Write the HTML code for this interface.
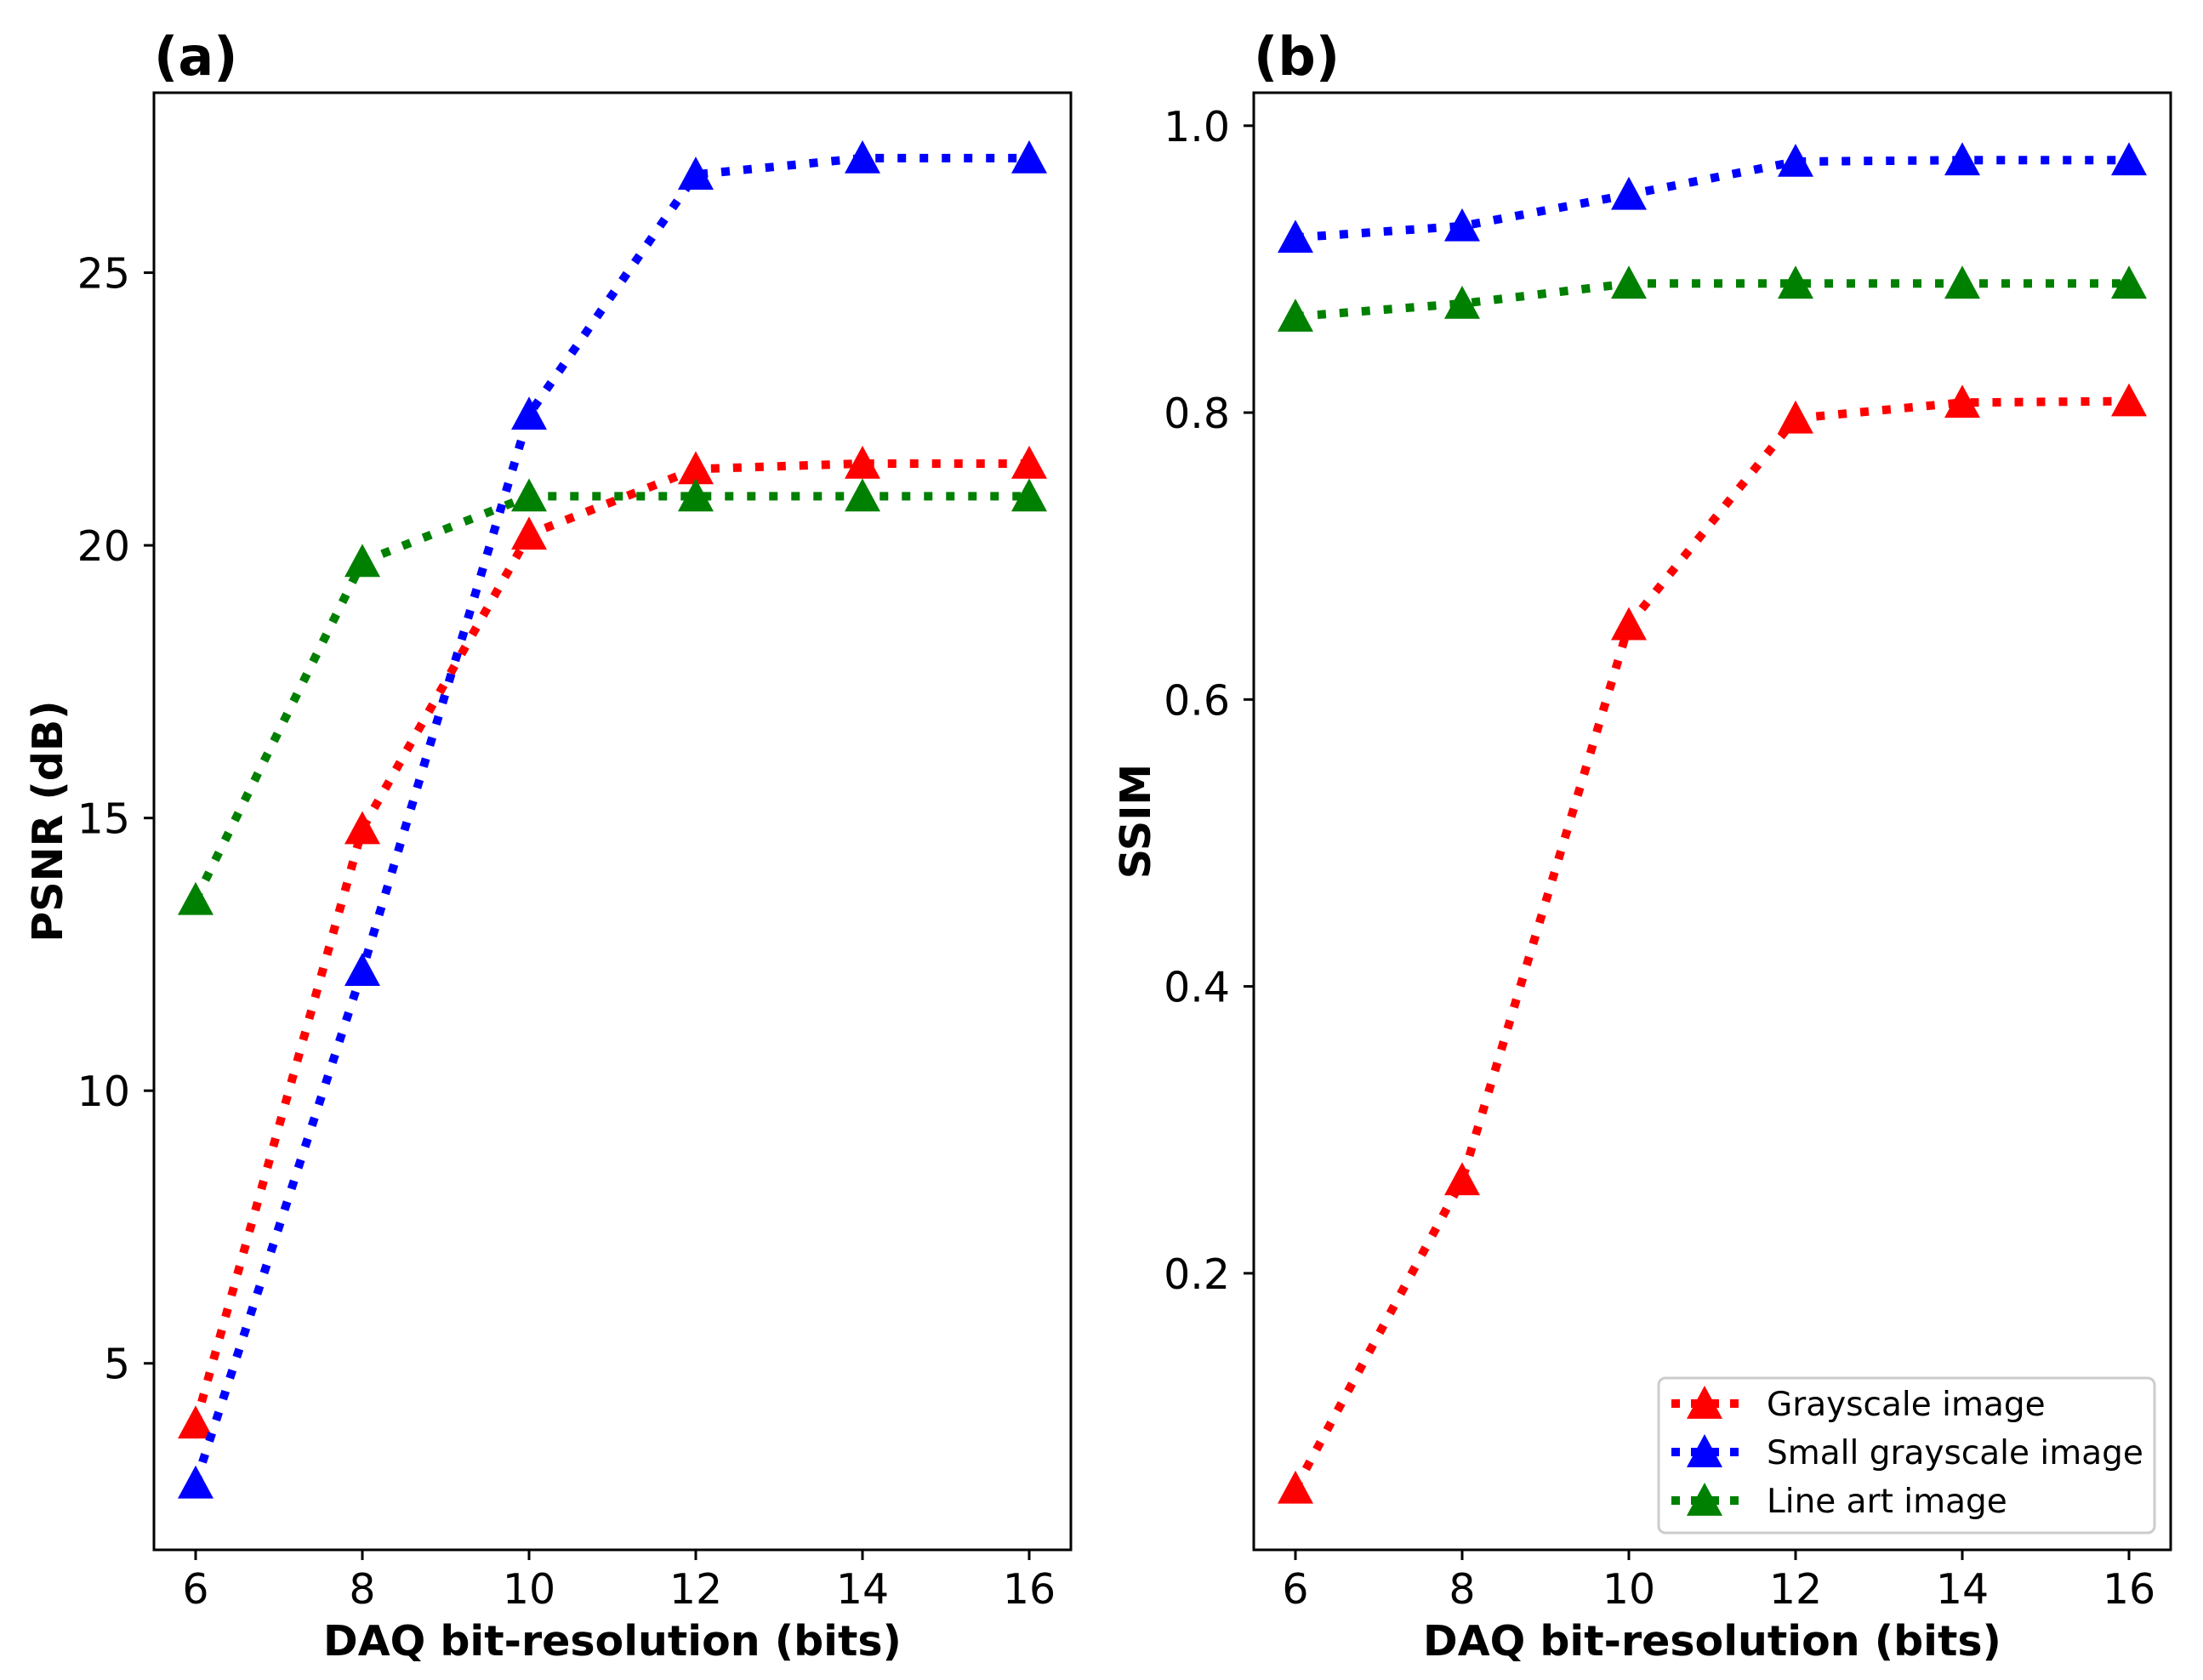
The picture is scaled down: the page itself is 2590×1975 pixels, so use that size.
<!DOCTYPE html>
<html><head><meta charset="utf-8"><style>
body{margin:0;background:#fff}
svg{display:block;font-family:"DejaVu Sans","Liberation Sans",sans-serif}
</style></head><body>
<svg id="fig" width="2590" height="1975" viewBox="0 0 2590 1975" xmlns="http://www.w3.org/2000/svg"></svg>
<script>
const bits = [6, 8, 10, 12, 14, 16];
const xTicks = [6, 8, 10, 12, 14, 16];
const psnrGray = [3.9, 14.8, 20.2, 21.4, 21.5, 21.5];
const psnrSmall = [2.8, 12.2, 22.4, 26.8, 27.1, 27.1];
const psnrLine = [13.5, 19.7, 20.9, 20.9, 20.9, 20.9];
const psnrTicks = [5, 10, 15, 20, 25];
const psnrTickLabels = ["5", "10", "15", "20", "25"];
const ssimGray = [0.05, 0.265, 0.652, 0.796, 0.807, 0.808];
const ssimSmall = [0.922, 0.930, 0.952, 0.975, 0.976, 0.976];
const ssimLine = [0.867, 0.876, 0.890, 0.890, 0.890, 0.890];
const ssimTicks = [0.2, 0.4, 0.6, 0.8, 1.0];
const ssimTickLabels = ["0.2", "0.4", "0.6", "0.8", "1.0"];
const seriesNames = ["Grayscale image", "Small grayscale image", "Line art image"];

const NS = "http://www.w3.org/2000/svg";
const svg = document.getElementById("fig");
function mk(tag, attrs, parent) {
  const e = document.createElementNS(NS, tag);
  for (const k in attrs) e.setAttribute(k, attrs[k]);
  (parent || svg).appendChild(e);
  return e;
}
const colors = ["#ff0000", "#0000ff", "#008000"];
const LW = 10;

function tri(g, cx, cy, color) {
  const r = 21;
  const p = mk("polygon", {points: `${cx},${cy - r} ${cx + r},${cy + r * 0.85} ${cx - r},${cy + r * 0.85}`, fill: color}, g);
  return p;
}

function panel(cfg) {
  const {L, R, T, B, xmin, xmax, ymin, ymax} = cfg;
  const xs = v => L + (v - xmin) / (xmax - xmin) * (R - L);
  const ys = v => B - (v - ymin) / (ymax - ymin) * (B - T);
  const g = mk("g", {});
  
  
  cfg.series.forEach((vals, si) => {
    const sg = mk("g", {}, g);
    
    
    const pts = bits.map((b, i) => xs(b) + "," + ys(vals[i])).join(" ");
    const pl = mk("polyline", {points: pts, fill: "none", stroke: colors[si], "stroke-width": LW, "stroke-dasharray": "10 16"}, sg);
    
    
    bits.forEach((b, i) => {
      const m = tri(sg, xs(b), ys(vals[i]), colors[si]);
      
      
    });
  });
  const fr = mk("rect", {x: L, y: T, width: R - L, height: B - T, fill: "none", stroke: "#000", "stroke-width": 3}, g);
  
  
  xTicks.forEach(t => {
    const x = xs(t);
    mk("line", {x1: x, x2: x, y1: B, y2: B + 12, stroke: "#000", "stroke-width": 3}, g);
    const tx = mk("text", {x: x, y: 1885, "text-anchor": "middle", "font-size": 49}, g);
    tx.textContent = t;
    
    
  });
  cfg.yTicks.forEach((t, i) => {
    const y = ys(t);
    mk("line", {x1: L - 12, x2: L, y1: y, y2: y, stroke: "#000", "stroke-width": 3}, g);
    const tx = mk("text", {x: L - 28, y: y + 18, "text-anchor": "end", "font-size": 49}, g);
    tx.textContent = cfg.yLabels[i];
    
    
  });
  const xl = mk("text", {x: (L + R) / 2, y: 1946, "text-anchor": "middle", "font-size": 49, "font-weight": "bold"}, g);
  xl.textContent = "DAQ bit-resolution (bits)";
  
  
  const cy = (T + B) / 2;
  const yl = mk("text", {x: cfg.ylx, y: cy, "text-anchor": "middle", "font-size": 49, "font-weight": "bold", transform: `rotate(-90 ${cfg.ylx} ${cy})`}, g);
  yl.textContent = cfg.ylabel;
  
  
  const pt = mk("text", {x: L, y: 88, "font-size": 62, "font-weight": "bold"}, g);
  pt.textContent = cfg.title;
  
  
}

panel({name: "psnr-chart", prefix: "psnr", L: 181, R: 1259, T: 109, B: 1822, xmin: 5.5, xmax: 16.5, ymin: 1.58, ymax: 28.30,
  series: [psnrGray, psnrSmall, psnrLine], yTicks: psnrTicks, yLabels: psnrTickLabels, ylabel: "PSNR (dB)", ylx: 73, title: "(a)"});
panel({name: "ssim-chart", prefix: "ssim", L: 1474, R: 2552, T: 109, B: 1822, xmin: 5.5, xmax: 16.5, ymin: 0.0072, ymax: 1.023,
  series: [ssimGray, ssimSmall, ssimLine], yTicks: ssimTicks, yLabels: ssimTickLabels, ylabel: "SSIM", ylx: 1352, title: "(b)"});

const lg = mk("g", {});


mk("rect", {x: 1950, y: 1620, width: 583, height: 182, rx: 8, fill: "#fff", "fill-opacity": 0.8, stroke: "#cccccc", "stroke-width": 3}, lg);
seriesNames.forEach((n, i) => {
  const y = 1650 + i * 57;
  const e = mk("g", {}, lg);
  
  
  mk("line", {x1: 1965, x2: 2045, y1: y, y2: y, stroke: colors[i], "stroke-width": LW, "stroke-dasharray": "10 13"}, e);
  tri(e, 2004, y, colors[i]);
  const t = mk("text", {x: 2077, y: y + 14, "font-size": 39}, e);
  t.textContent = n;
});
</script>
</body></html>
